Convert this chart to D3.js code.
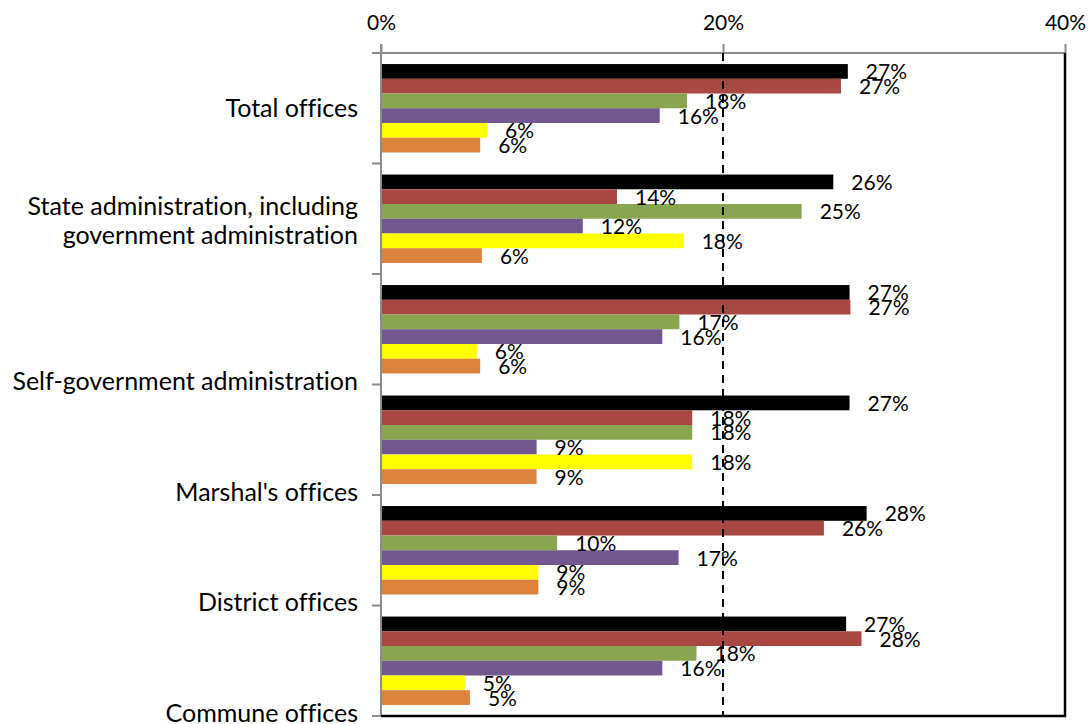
<!doctype html>
<html>
<head>
<script src="https://cdnjs.cloudflare.com/ajax/libs/d3/7.8.5/d3.min.js"></script>
<style>
body { margin: 0; background: #fff; }
svg { font-family: Lato, "Open Sans", sans-serif; font-variant-ligatures: none; }
.cat { font-size: 25px; fill: #000; }
.val { font-size: 21px; fill: #000; }
.axis text { font-size: 21px; fill: #000; font-family: Lato, sans-serif; }
.axis path, .axis line { stroke: #8c8c8c; stroke-width: 2; }
</style>
</head>
<body>
<svg width="1092" height="724"></svg>
<script>
var categories = ["Total offices",
  "State administration, including government administration",
  "Self-government administration",
  "Marshal's offices",
  "District offices",
  "Commune offices"]

// six unnamed series, one value per category (percent)
var seriesBlack  = [27.3, 26.45, 27.4,  27.4, 28.4, 27.2]
var seriesRed    = [26.9, 13.8,  27.45, 18.2, 25.9, 28.1]
var seriesGreen  = [17.9, 24.6,  17.45, 18.2, 10.3, 18.45]
var seriesPurple = [16.3, 11.8,  16.45,  9.1, 17.4, 16.45]
var seriesYellow = [ 6.2, 17.7,   5.6,  18.2,  9.2,  4.9]
var seriesOrange = [ 5.8,  5.9,   5.8,   9.1,  9.2,  5.2]

var xTicks = [0, 20, 40]

var seriesList = [
  {key: "black",  values: seriesBlack,  color: "#000000"},
  {key: "red",    values: seriesRed,    color: "#a94842"},
  {key: "green",  values: seriesGreen,  color: "#8aa54f"},
  {key: "purple", values: seriesPurple, color: "#72588f"},
  {key: "yellow", values: seriesYellow, color: "#ffff00"},
  {key: "orange", values: seriesOrange, color: "#dc833d"}
]

var plotLeft = 381, plotRight = 1065, plotTop = 53, plotBottom = 716

var svg = d3.select("svg")

var x = d3.scaleLinear().domain([0, 40]).range([plotLeft, plotRight])

var y = d3.scaleBand()
  .domain(categories)
  .range([plotTop, plotBottom])
  .paddingInner(0.2)
  .paddingOuter(0.1)

var ySub = d3.scaleBand()
  .domain(seriesList.map(d => d.key))
  .range([0, y.bandwidth()])

// category boundaries (tick positions on the vertical axis)
var gap = y.step() * y.paddingInner() / 2
var bounds = [plotTop].concat(categories.map(c => y(c) + y.bandwidth() + gap))
bounds[bounds.length - 1] = plotBottom

// top axis
var xAxis = svg.append("g")
  .attr("class", "axis")
  .attr("transform", "translate(0," + plotTop + ")")
  .call(d3.axisTop(x).tickValues(xTicks).tickFormat(d => d + "%").tickSizeInner(9).tickSizeOuter(0).tickPadding(14))
xAxis.select(".domain").remove()
xAxis.append("line")
  .attr("x1", plotLeft - 9).attr("x2", plotRight)
  .attr("y1", 0).attr("y2", 0)

// vertical axis with ticks between categories
svg.append("line")
  .attr("x1", plotLeft).attr("x2", plotLeft)
  .attr("y1", plotTop - 9).attr("y2", plotBottom)
  .style("stroke", "#8c8c8c").style("stroke-width", 2)
svg.selectAll("line.ytick")
  .data(bounds.slice(1))
  .enter().append("line")
  .attr("class", "ytick")
  .attr("x1", plotLeft - 9).attr("x2", plotLeft)
  .attr("y1", d => d).attr("y2", d => d)
  .style("stroke", "#8c8c8c").style("stroke-width", 2)

// right and bottom plot border
svg.append("path")
  .attr("d", "M" + plotRight + "," + plotTop + "V" + plotBottom + "H" + plotLeft)
  .style("fill", "none").style("stroke", "#000").style("stroke-width", 2.5)

// bars
var groups = svg.selectAll("g.catg")
  .data(categories)
  .enter().append("g")
  .attr("class", "catg")
  .attr("transform", d => "translate(0," + y(d) + ")")

groups.selectAll("rect")
  .data((c, i) => seriesList.map(s => ({key: s.key, color: s.color, v: s.values[i]})))
  .enter().append("rect")
  .attr("x", plotLeft + 1)
  .attr("y", d => ySub(d.key))
  .attr("width", d => x(d.v) - plotLeft - 1)
  .attr("height", ySub.bandwidth())
  .style("fill", d => d.color)

// dashed 20% reference line
svg.append("line")
  .attr("x1", x(20)).attr("x2", x(20))
  .attr("y1", plotTop).attr("y2", plotBottom)
  .style("stroke", "#000").style("stroke-width", 2)
  .style("stroke-dasharray", "8,6")

// data labels
groups.selectAll("text.val")
  .data((c, i) => seriesList.map(s => ({key: s.key, v: s.values[i]})))
  .enter().append("text")
  .attr("class", "val")
  .attr("x", d => x(d.v) + 18)
  .attr("y", d => ySub(d.key) + ySub.bandwidth() / 2)
  .attr("dy", "0.38em")
  .text(d => Math.round(d.v) + "%")

// category labels: first two centred on their band, the rest sit on the lower tick
var catText = svg.selectAll("text.cat")
  .data(categories)
  .enter().append("text")
  .attr("class", "cat")
  .attr("text-anchor", "end")
  .attr("x", plotLeft - 23)
  .attr("y", (d, i) => i < 2 ? y(d) + y.bandwidth() / 2 : bounds[i + 1])

catText.each(function(d, i) {
  var t = d3.select(this)
  if (i === 1) {
    t.append("tspan").attr("x", plotLeft - 23).attr("dy", "-0.17em").text("State administration, including")
    t.append("tspan").attr("x", plotLeft - 23).attr("dy", "1.17em").text("government administration")
  } else if (i < 2) {
    t.attr("dy", "0.35em").text(d)
  } else {
    t.attr("dy", "0.22em").text(d)
  }
})
</script>
</body>
</html>
